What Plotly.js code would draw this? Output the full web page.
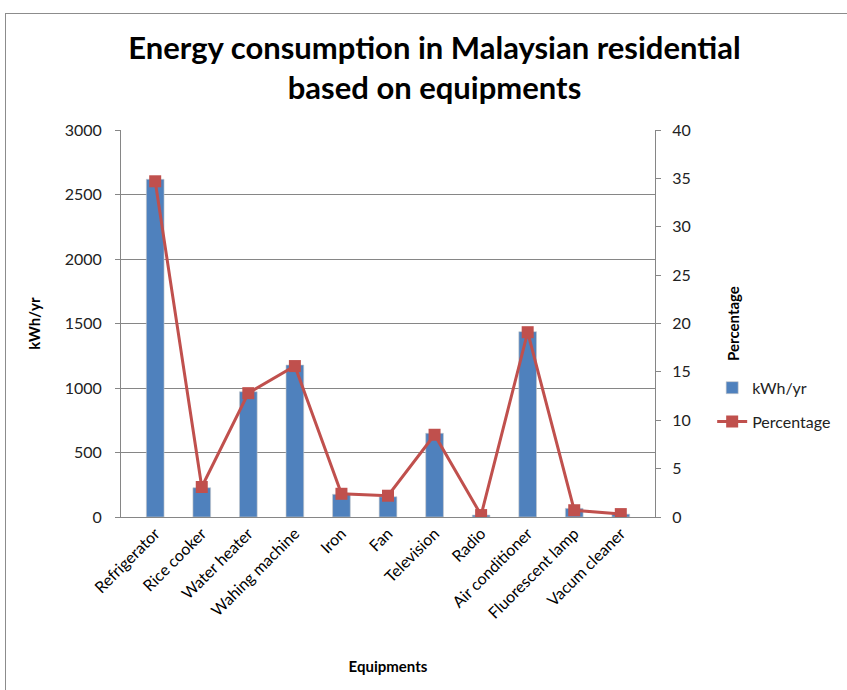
<!DOCTYPE html>
<html><head><meta charset="utf-8">
<script src="https://cdn.plot.ly/plotly-3.0.1.min.js"></script>
<style>
html,body{margin:0;padding:0;background:#fff;}
#frame{position:absolute;left:5px;top:13px;width:900px;height:720px;border:1px solid #8c8c8c;}
#chart{position:absolute;left:0;top:0;width:847px;height:690px;}
</style></head>
<body>
<div id="frame"></div>
<div id="chart"></div>
<script>
const categories = ["Refrigerator","Rice cooker","Water heater","Wahing machine","Iron","Fan","Television","Radio","Air conditioner","Fluorescent lamp","Vacum cleaner"];
const kwhPerYear = [2618, 227, 971, 1178, 176, 157, 649, 15, 1437, 67, 22];
const percentage = [34.7, 3.1, 12.8, 15.6, 2.4, 2.2, 8.5, 0.2, 19.1, 0.7, 0.3];

const font = "Lato, 'Open Sans', sans-serif";
const traces = [
  {type:"bar", x:categories, y:kwhPerYear, name:"kWh/yr", legendgroup:"a",
   marker:{color:"#4F81BD", line:{color:"rgba(200,200,200,0.6)", width:1}}, width:0.38},
  {type:"scatter", mode:"lines+markers", x:categories, y:percentage, name:"Percentage", legendgroup:"b", yaxis:"y2",
   line:{color:"#C0504D", width:3}, marker:{symbol:"square", size:12, color:"#C0504D"}}
];
const layout = {
  width:847, height:690,
  paper_bgcolor:"rgba(0,0,0,0)", plot_bgcolor:"rgba(0,0,0,0)",
  margin:{l:121, r:191, t:130, b:173},
  font:{family:font, size:15, color:"#222"},
  title:{text:"<b>Energy consumption in Malaysian residential<br>based on equipments</b>", font:{family:font, size:31, color:"#000"},
         x:0.513, xanchor:"center", y:0.915, yanchor:"top", pad:{t:0}},
  xaxis:{type:"category", tickangle:-45, showline:true, linecolor:"#868686", linewidth:1, ticks:"",
         tickfont:{size:16, color:"#000"},
         title:{text:"<b>Equipments</b>", font:{size:15, color:"#000"}, standoff:40}},
  yaxis:{range:[0,3000], dtick:500, showline:true, linecolor:"#868686", gridcolor:"#868686", gridwidth:1,
         ticks:"outside", ticklen:5, tickcolor:"#868686", zeroline:false, tickfont:{size:16, color:"#222"},
         ticklabelstandoff:10,
         title:{text:"<b>kWh/yr</b>", font:{size:15, color:"#000"}, standoff:20}},
  yaxis2:{range:[0,40], dtick:5, overlaying:"y", side:"right", showline:true, linecolor:"#868686", showgrid:false,
          ticks:"outside", ticklen:5, tickcolor:"#868686", zeroline:false, tickfont:{size:16, color:"#222"},
          ticklabelstandoff:8,
          title:{text:"<b>Percentage</b>", font:{size:15, color:"#000"}, standoff:38}},
  legend:{x:1.105, xanchor:"left", y:0.29, yanchor:"middle", traceorder:"grouped", tracegroupgap:10,
          font:{size:16, color:"#222"}, bgcolor:"rgba(0,0,0,0)"},
  showlegend:true
};
Plotly.newPlot("chart", traces, layout, {displayModeBar:false, staticPlot:true});
</script>
</body></html>
